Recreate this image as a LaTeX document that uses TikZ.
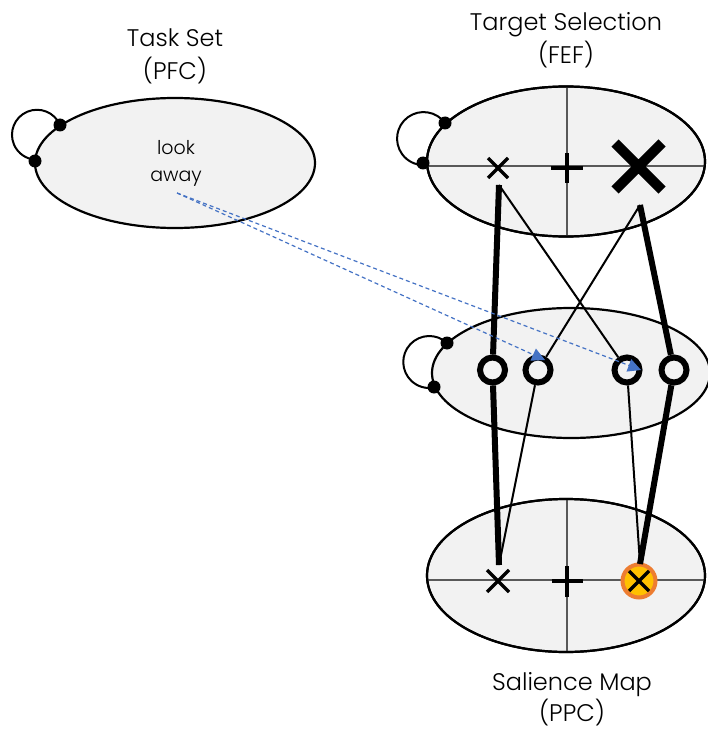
\documentclass[tikz,border=0pt]{standalone}
\usepackage{fontspec}
\setmainfont{Poppins}[UprightFont=* Light]
\usetikzlibrary{shapes.geometric, arrows.meta}

\definecolor{areafill}{HTML}{F2F2F2}
\definecolor{linkblue}{HTML}{4472C4}
\definecolor{hotorange}{HTML}{ED7D31}
\definecolor{hotyellow}{HTML}{FFC000}

\tikzset{
  area/.style={ellipse, draw, line width=2.2pt, fill=areafill, inner sep=0pt},
  gridline/.style={line width=1.2pt, black!65},
  loopline/.style={line width=2pt},
  knob/.style={circle, fill=black, inner sep=0pt, minimum size=13pt},
  unit/.style={circle, draw, line width=6pt, fill=areafill, minimum size=25pt, inner sep=0pt},
  strong/.style={line width=6pt},
  weak/.style={line width=2pt},
  cue/.style={linkblue, line width=1.2pt, dash pattern=on 4pt off 3pt,
              -{Triangle[length=13pt,width=13pt]}},
  title/.style={font=\fontsize{24}{30}\selectfont, anchor=base, inner sep=0pt},
  inner/.style={font=\fontsize{19}{24}\selectfont, anchor=base, inner sep=0pt},
}

\begin{document}
\begin{tikzpicture}[x=1pt, y=1pt]
\useasboundingbox (0,0) rectangle (707,-730);

% ---- areas ----
\node[area, minimum width=280pt, minimum height=130pt] (pfc) at (175,-163) {};
\node[area, minimum width=278pt, minimum height=150pt] (fef) at (566,-161.5) {};
\node[area, minimum width=278pt, minimum height=130pt] (mid) at (571,-373) {};
\node[area, minimum width=278pt, minimum height=153pt] (ppc) at (566,-575.5) {};

% ---- retinotopic axes ----
\begin{scope}
  \clip (566,-161.5) ellipse [x radius=139, y radius=75];
  \draw[gridline] (420,-166) -- (710,-166);
  \draw[gridline] (567,-80) -- (567,-240);
\end{scope}
\begin{scope}
  \clip (566,-575.5) ellipse [x radius=139, y radius=76.5];
  \draw[gridline] (420,-580) -- (710,-580);
  \draw[gridline] (567,-495) -- (567,-655);
\end{scope}
\draw[line width=2.2pt] (566,-161.5) ellipse [x radius=139, y radius=75];
\draw[line width=2.2pt] (566,-575.5) ellipse [x radius=139, y radius=76.5];

% ---- titles ----
\node[title] (ts1) at (175,-47) {Task Set};
\node[title] (ts2) at (175,-80) {(PFC)};
\node[title] (tg1) at (566,-31) {Target Selection};
\node[title] (tg2) at (566,-64) {(FEF)};
\node[title] (sm1) at (572,-690) {Salience Map};
\node[title] (sm2) at (572,-721) {(PPC)};
\node[inner] (lk1) at (176,-155) {look};
\node[inner] (lk2) at (176,-182) {away};

% ---- recurrent loops ----
\node[knob] (pk1) at (60,-125) {};
\node[knob] (pk2) at (35,-161) {};
\draw[loopline] (pk1.center) arc[start angle=23, end angle=268, radius=25];
\node[knob] (fk1) at (445,-123) {};
\node[knob] (fk2) at (423,-163) {};
\draw[loopline] (fk1.center) arc[start angle=36, end angle=269, radius=26.5];
\node[knob] (mk1) at (447,-343) {};
\node[knob] (mk2) at (434,-387) {};
\draw[loopline] (mk1.center) arc[start angle=47, end angle=281, radius=26];

% ---- FEF markers ----
\coordinate (fsmall) at (498,-168);
\coordinate (fplus) at (567,-168);
\coordinate (fbig) at (638.5,-166.5);
\draw[line width=3.5pt] (fsmall) +(-10,-10) -- +(10,10) +(-10,10) -- +(10,-10);
\draw[line width=4pt] (fplus) +(-16,0) -- +(16,0) +(0,-15) -- +(0,15);
\draw[line width=10pt] (fbig) +(-23.5,-23.5) -- +(23.5,23.5) +(-23.5,23.5) -- +(23.5,-23.5);

% ---- PPC markers ----
\coordinate (psmall) at (498,-581);
\coordinate (pplus) at (567,-581);
\coordinate (phot) at (639,-581);
\draw[line width=3.5pt] (psmall) +(-11,-11) -- +(11,11) +(-11,11) -- +(11,-11);
\draw[line width=4pt] (pplus) +(-15.5,0) -- +(15.5,0) +(0,-15.5) -- +(0,15.5);
\draw[hotorange, fill=hotyellow, line width=4pt] (phot) circle[radius=16.5];
\draw[line width=3.5pt] (phot) +(-10,-10) -- +(10,10) +(-10,10) -- +(10,-10);

% ---- intermediate units ----
\node[unit] (u1) at (492.5,-370) {};
\node[unit] (u2) at (538,-370) {};
\node[unit] (u3) at (627,-370) {};
\node[unit] (u4) at (674,-370) {};

% ---- connection ends ----
\coordinate (fs-out) at (499,-185);
\coordinate (fb-out) at (640,-205);
\coordinate (ps-in) at (499,-565);
\coordinate (ph-in) at (640,-564);

% ---- strong pathways ----
\draw[strong] (fs-out) -- (u1);
\draw[strong] (u1) -- (ps-in);
\draw[strong] (fb-out) -- (u4);
\draw[strong] (u4) -- (ph-in);

% ---- weak pathways ----
\draw[weak] (fs-out) -- (u3);
\draw[weak] (fb-out) -- (u2);
\draw[weak] (u2) -- (ps-in);
\draw[weak] (u3) -- (ph-in);

% ---- top-down cue ----
\coordinate (cue-src) at (177,-193);
\coordinate (cue-a) at (545,-360);
\coordinate (cue-b) at (641,-370);
\draw[cue] (cue-src) -- (cue-a);
\draw[cue] (cue-src) -- (cue-b);
\end{tikzpicture}
\end{document}
